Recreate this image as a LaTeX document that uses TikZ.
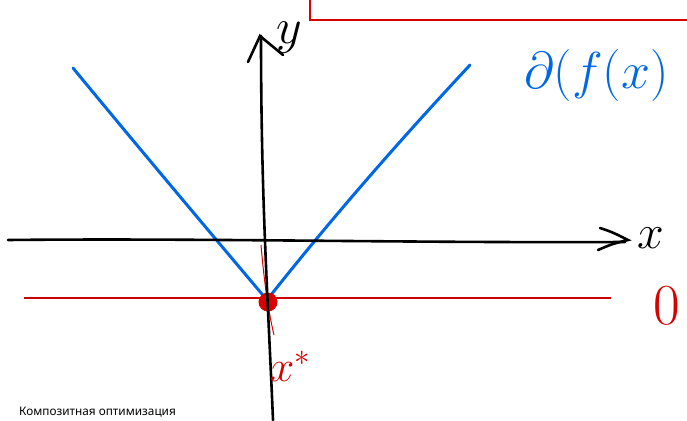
\RequirePackage{fix-cm}
\documentclass[tikz,border=0pt]{standalone}
\usepackage{fontspec}
\newfontfamily\ruSans{Noto Sans}
\usetikzlibrary{arrows.meta}

\begin{document}
\begin{tikzpicture}[x=1pt, y=-1pt,
        axis/.style={line width=2.6pt, line cap=round, black},
        graph/.style={line width=3pt, line cap=round, line join=round, blue!55!cyan!90!black},
        lvl/.style={line width=1.5pt, red!80!black},
        note/.style={font=\fontsize{#1}{#1}\selectfont, inner sep=0pt}]
    \useasboundingbox (0,0) rectangle (687,420);
    \clip (0,0) rectangle (687,420);

    % red frame at the top
    \draw[line width=2pt, red!85!black] (310,-5) -- (310,20) -- (700,20);

    % blue label on the right
    \node[note=52, text=blue!55!cyan!90!black, anchor=west] (sub) at (524,76) {$\partial(f(x)$};

    % the function |x|-like
    \draw[graph] (73,68) .. controls (120,125) and (170,185) .. (267,300)
        .. controls (330,220) and (400,140) .. (470,65);

    % level line and minimiser
    \draw[lvl] (24,298) -- (611,298);
    \draw[line width=1pt, red!85!black] (261,245) .. controls (264,280) and (268,310) .. (274,335);
    \fill[red!85!black] (268,302) circle[radius=9.5];

    % axes
    \draw[axis] (8,240) .. controls (200,238) and (400,243) .. (625,242);
    \draw[axis] (600,228) .. controls (612,232) .. (628,240) .. controls (612,244) .. (598,250);
    \draw[axis] (273,420) .. controls (268,300) and (261,200) .. (261,36);
    \draw[axis] (248,62) -- (260,36) -- (283,55);

    % axis labels
    \node[note=50] (ylab) at (289,38) {$y$};
    \node[note=48] (xlab) at (651,238) {$x$};
    \node[note=44, text=red!85!black] (xstar) at (290,366) {$x^*$};
    \node[note=58, text=red!85!black] (zero) at (667,306) {$0$};

    % caption
    \node[font=\ruSans\fontsize{11.8}{12}\selectfont, anchor=west, inner sep=0pt] (cap) at (19,412) {Композитная оптимизация};
\end{tikzpicture}
\end{document}
